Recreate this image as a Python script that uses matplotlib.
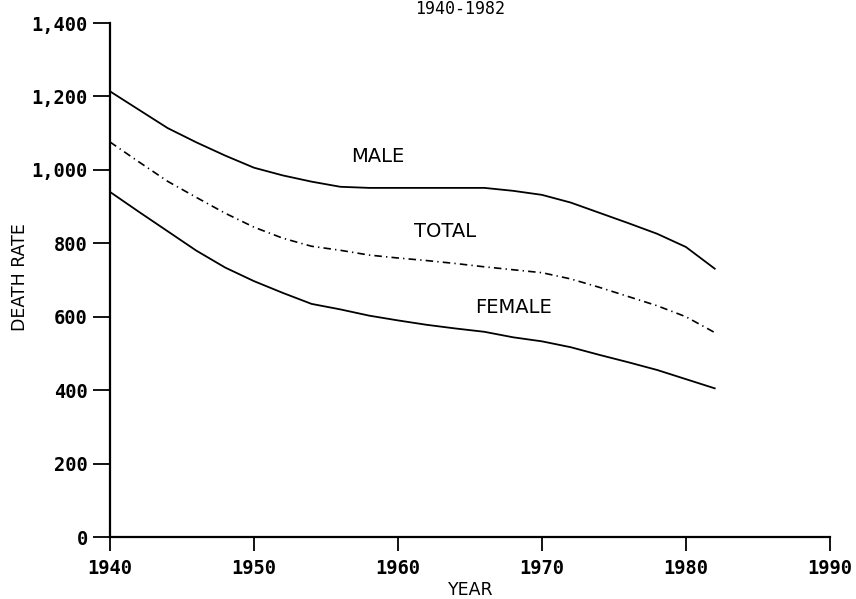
import matplotlib.pyplot as plt

years = [1940, 1942, 1944, 1946, 1948, 1950, 1952, 1954, 1956, 1958, 1960,
         1962, 1964, 1966, 1968, 1970, 1972, 1974, 1976, 1978, 1980, 1982]
male = [1214, 1164, 1114, 1075, 1039, 1006, 985, 968, 954, 951, 951,
        951, 951, 951, 943, 932, 911, 883, 855, 826, 790, 731]
total = [1076, 1022, 969, 925, 882, 844, 814, 792, 781, 768, 760,
         753, 745, 736, 728, 720, 703, 680, 655, 630, 600, 557]
female = [940, 886, 833, 780, 734, 697, 665, 635, 620, 603, 590,
          578, 568, 559, 544, 533, 517, 496, 476, 455, 430, 405]

xTicks = [1940, 1950, 1960, 1970, 1980, 1990]
yTicks = [0, 200, 400, 600, 800, 1000, 1200, 1400]
yTickLabels = ['0', '200', '400', '600', '800', '1,000', '1,200', '1,400']

# where the series names sit (data coords)
seriesLabels = ['MALE', 'TOTAL', 'FEMALE']
labelYears = [1958.6, 1963.3, 1968.0]
labelValues = [1037, 833, 626]

fig = plt.figure(figsize=(8.56, 5.99), dpi=100)
ax = fig.add_axes([0.1285, 0.1035, 0.841, 0.858])

ax.plot(years, male, c='black', lw=1.3)
ax.plot(years, total, c='black', lw=1.2, linestyle=(0, (4.5, 2.5, 0.8, 2.5)))
ax.plot(years, female, c='black', lw=1.3)

for name, lx, ly in zip(seriesLabels, labelYears, labelValues):
  ax.text(lx, ly, name, ha='center', va='center', fontsize=14, family='DejaVu Sans')

ax.set_xlim(1940, 1990)
ax.set_ylim(0, 1400)
ax.set_xticks(xTicks)
ax.set_xticklabels([str(t) for t in xTicks], family='DejaVu Sans Mono', fontsize=13.5, fontweight='bold')
ax.set_yticks(yTicks)
ax.set_yticklabels(yTickLabels, family='DejaVu Sans Mono', fontsize=13.5, fontweight='bold')
ax.tick_params(axis='x', length=10, width=1.3, pad=6, direction='out')
ax.tick_params(axis='y', length=12, width=1.3, pad=4, direction='out')
#
for side in ['top', 'right']:
  ax.spines[side].set_visible(False)
for side in ['left', 'bottom']:
  ax.spines[side].set_linewidth(1.6)

fig.text(20 / 856, 1 - 277 / 599, 'DEATH RATE', rotation=90, ha='center', va='center', fontsize=12.5)
fig.text(471 / 856, 0.0, 'YEAR', ha='center', va='bottom', fontsize=12.5)
# title sits at the very top edge of the scan
fig.text(460 / 856, 1.0, '1940-1982', ha='center', va='top', fontsize=12, family='DejaVu Sans Mono')

fig.savefig('out.png', dpi=100)
